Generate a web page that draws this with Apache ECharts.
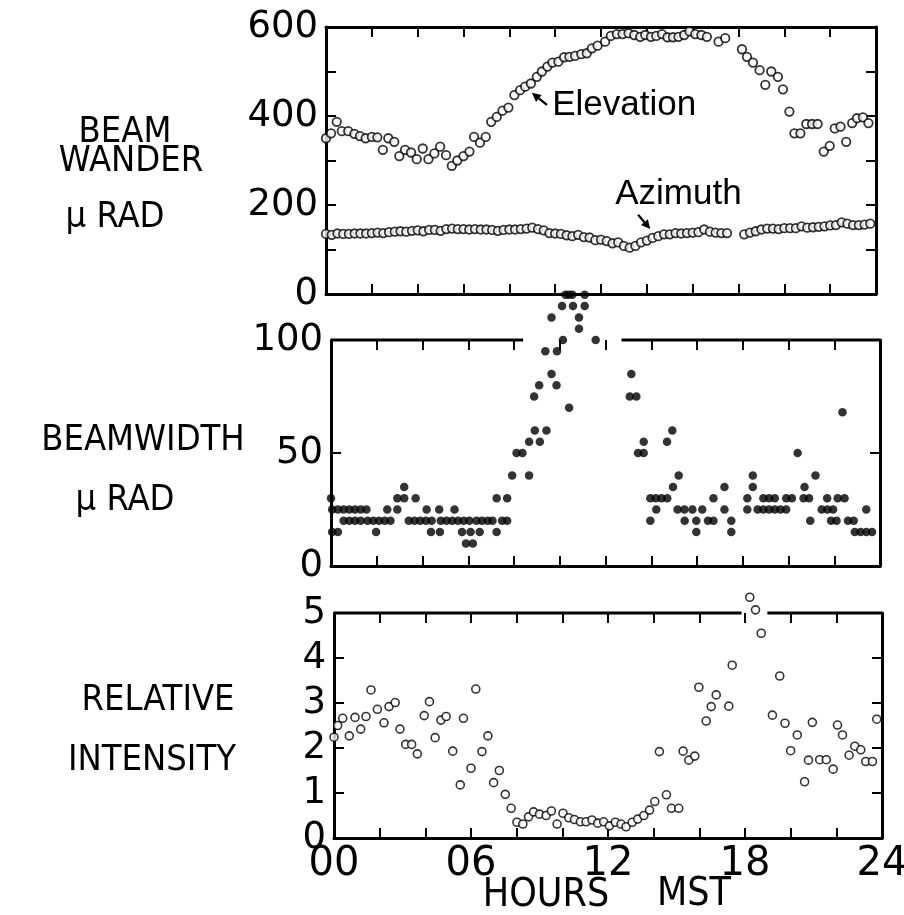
<!DOCTYPE html>
<html><head><meta charset="utf-8">
<script src="https://cdn.jsdelivr.net/npm/echarts@6/dist/echarts.min.js"></script>
<style>html,body{margin:0;padding:0;background:#fff}#c{width:904px;height:915px}</style>
</head><body><div id="c"></div>
<script>
// ---------- DATA ----------
const xTickLabels = ['00', '06', '12', '18', '24'];
const wanderTickLabels = ['0', '200', '400', '600'];
const widthTickLabels = ['0', '50', '100'];
const intensityTickLabels = ['0', '1', '2', '3', '4', '5'];

const elevHours = [0.00,0.22,0.47,0.69,0.97,1.24,1.48,1.73,2.00,2.24,2.48,2.72,2.98,3.20,3.45,3.71,3.96,4.22,4.47,4.73,4.98,5.24,5.49,5.73,6.00,6.26,6.46,6.72,6.97,7.21,7.45,7.70,7.96,8.22,8.47,8.69,8.94,9.20,9.42,9.66,9.88,10.14,10.39,10.62,10.87,11.14,11.38,11.60,11.85,12.18,12.43,12.69,12.94,13.20,13.45,13.71,13.93,14.18,14.41,14.66,14.90,15.14,15.38,15.63,15.86,16.11,16.38,16.62,17.13,17.42,18.15,18.37,18.63,18.92,19.17,19.43,19.72,19.94,20.22,20.44,20.70,20.96,21.21,21.45,21.72,21.98,22.20,22.45,22.70,22.96,23.17,23.43,23.67];
const elevValues = [350,361,387,366,366,360,355,350,353,352,324,350,342,310,324,318,303,327,303,316,331,312,288,300,310,320,353,340,353,387,398,412,419,447,458,466,473,488,500,511,520,522,532,533,535,539,541,552,558,567,580,584,584,586,582,578,582,578,580,584,577,577,578,582,590,584,582,578,567,575,550,533,520,503,470,500,488,460,410,361,361,382,382,382,320,333,372,376,342,384,395,397,384];

const aziHours = [0,0.25,0.5,0.75,1,1.25,1.5,1.75,2,2.25,2.5,2.75,3,3.25,3.5,3.75,4,4.25,4.5,4.75,5,5.25,5.5,5.75,6,6.25,6.5,6.75,7,7.25,7.5,7.75,8,8.25,8.5,8.75,9,9.25,9.5,9.75,10,10.25,10.5,10.75,11,11.25,11.5,11.75,12,12.25,12.5,12.75,13,13.25,13.5,13.75,14,14.25,14.5,14.75,15,15.25,15.5,15.75,16,16.25,16.5,16.75,17,17.25,17.5,18.25,18.5,18.75,19,19.25,19.5,19.75,20,20.25,20.5,20.75,21,21.25,21.5,21.75,22,22.25,22.5,22.75,23,23.25,23.5,23.75];
const aziValues = [135,133,136,135,135,136,136,136,137,138,137,139,140,141,140,142,143,141,144,144,142,146,147,146,146,145,146,145,145,144,142,144,145,145,146,147,149,146,143,137,136,135,132,130,133,128,127,121,122,119,114,116,108,104,108,116,120,126,130,134,134,137,136,137,138,139,145,140,138,137,137,134,138,141,145,147,147,146,148,148,148,152,149,150,151,152,154,155,161,158,155,155,156,158];

const bwHours = [
  0,0.05,0.3,
  0.05,0.3,0.55,0.8,1.05,1.3,1.55,
  0.55,0.8,1.05,1.3,
  1.6,1.85,2.1,2.35,2.6,
  1.97,2.46,2.9,2.9,3.2,3.2,3.7,
  3.4,3.65,3.9,4.15,4.4,
  4.18,4.73,4.37,4.76,
  4.8,5.05,5.3,5.55,5.8,6.05,
  5.4,5.73,6.1,6.5,5.9,6.2,
  6.36,6.6,6.85,7.06,
  7.24,7.48,7.7,7.24,7.7,7.92,8.11,8.37,8.66,
  8.66,8.91,9.13,9.42,
  8.88,9.1,9.64,9.86,
  9.37,9.88,10.14,10.41,9.64,
  10.1,10.58,11.09,
  10.25,10.4,10.55,11.09,
  10.84,10.84,11.57,
  13.13,13.06,13.35,13.67,13.42,13.67,14.69,14.92,
  13.96,14.2,14.45,14.7,
  13.96,14.22,14.95,15.2,
  15.15,15.45,15.8,
  15.46,15.97,15.97,16.23,16.48,16.72,16.72,17.2,17.2,17.5,17.5,
  18.2,18.2,18.44,18.44,
  18.65,18.9,19.15,19.4,19.65,19.9,
  18.9,19.15,19.4,19.9,20.15,
  20.4,20.66,20.9,20.7,21.18,20.95,
  21.45,21.7,21.95,21.69,
  22.15,22.45,22.36,
  21.86,22.1,22.6,22.85,
  23.4,
  22.9,23.15,23.4,23.65
];
const bwValues = [
  30,15,15,
  25,25,25,25,25,25,25,
  20,20,20,20,
  20,20,20,20,20,
  15,25,25,30,30,35,30,
  20,20,20,20,20,
  25,25,15,15,
  20,20,20,20,20,20,
  25,15,15,15,10,10,
  20,20,20,20,
  15,20,20,30,30,40,50,50,40,
  55,60,55,60,
  75,80,85,80,
  95,95,100,70,110,
  115,115,115,
  120,120,120,120,
  110,105,100,
  85,75,75,55,50,50,55,60,
  30,30,30,30,
  20,25,35,40,
  25,25,25,
  20,20,15,25,20,20,30,35,25,20,15,
  30,25,35,40,
  25,25,25,25,25,25,
  30,30,30,30,30,
  50,30,30,35,40,20,
  25,25,25,30,
  30,30,68,
  20,20,20,20,
  25,
  15,15,15,15
];

const intHours = [0,0.16,0.38,0.67,0.92,1.17,1.4,1.62,1.9,2.19,2.41,2.68,2.89,3.14,3.4,3.65,3.95,4.18,4.43,4.68,4.91,5.2,5.53,5.67,6.0,6.21,6.48,6.74,6.99,7.24,7.5,7.76,8.01,8.27,8.52,8.74,9.0,9.29,9.52,9.77,10.03,10.28,10.53,10.79,11.04,11.3,11.55,11.81,12.06,12.32,12.57,12.79,13.06,13.3,13.57,13.82,14.05,14.25,14.56,14.78,15.1,15.29,15.54,15.8,15.98,16.3,16.52,16.74,17.29,17.44,18.21,18.46,18.71,19.2,19.52,19.75,20.0,20.29,20.61,20.78,20.95,21.27,21.56,21.86,22.05,22.27,22.56,22.81,23.07,23.29,23.58,23.77];
const intValues = [2.24,2.5,2.66,2.27,2.68,2.42,2.7,3.29,2.86,2.56,2.92,3.01,2.42,2.08,2.08,1.87,2.72,3.03,2.23,2.62,2.7,1.93,1.18,2.66,1.55,3.31,1.92,2.27,1.23,1.5,0.97,0.66,0.35,0.31,0.47,0.58,0.53,0.5,0.6,0.31,0.55,0.45,0.41,0.36,0.36,0.4,0.33,0.36,0.27,0.35,0.31,0.25,0.35,0.42,0.5,0.62,0.81,1.92,0.96,0.66,0.66,1.93,1.73,1.82,3.35,2.6,2.92,3.18,2.93,3.84,5.35,5.07,4.55,2.73,3.6,2.55,1.94,2.29,1.25,1.73,2.57,1.74,1.74,1.53,2.51,2.29,1.84,2.04,1.96,1.7,1.7,2.64];

// top frame segments (hours) where the frame line is drawn for panels 2 and 3
const bwTopFrame = [[0, 8.4], [12.7, 24]];
const intTopFrame = [[0, 17.85], [18.98, 24]];

// ---------- CHART ----------
const zip = (a, b) => a.map((v, i) => [v, b[i]]);
const chart = echarts.init(document.getElementById('c'), null, {renderer: 'canvas'});
const NUM_FONT = '"DejaVu Sans", sans-serif';
const TXT_FONT = '"Liberation Sans Narrow", "DejaVu Sans Condensed", "Liberation Sans", sans-serif';
const grids = [
  {left: 326, top: 27, width: 550, height: 267},
  {left: 331, top: 340, width: 549, height: 226},
  {left: 334, top: 613, width: 548, height: 225}
];
const yCfg = [
  {max: 600, interval: 100, labels: wanderTickLabels},
  {max: 100, interval: 50, labels: widthTickLabels},
  {max: 5, interval: 1, labels: intensityTickLabels}
];
const frameTop = [true, false, false];
const BLACK = '#000';
const xAxes = [], yAxes = [];
grids.forEach((g, i) => {
  xAxes.push({gridIndex: i, type: 'value', min: 0, max: 24, interval: 2, position: 'bottom',
    axisLine: {show: true, onZero: false, lineStyle: {color: BLACK, width: 3}},
    axisTick: {show: true, inside: true, length: 10, lineStyle: {color: BLACK, width: 2}},
    axisLabel: {show: i === 2, margin: 7, fontFamily: NUM_FONT, fontSize: 40, color: BLACK,
      formatter: v => (v % 6 === 0 ? xTickLabels[v / 6] : '')},
    splitLine: {show: false}});
  xAxes.push({gridIndex: i, type: 'value', min: 0, max: 24, interval: 2, position: 'top',
    axisLine: {show: frameTop[i], onZero: false, lineStyle: {color: BLACK, width: 3}},
    axisTick: {show: true, inside: true, length: 10, lineStyle: {color: BLACK, width: 2}},
    axisLabel: {show: false}, splitLine: {show: false}});
  yAxes.push({gridIndex: i, type: 'value', min: 0, max: yCfg[i].max, interval: yCfg[i].interval, position: 'left',
    axisLine: {show: true, onZero: false, lineStyle: {color: BLACK, width: 3}},
    axisTick: {show: true, inside: true, length: 10, lineStyle: {color: BLACK, width: 2}},
    axisLabel: {show: true, margin: 8, fontFamily: NUM_FONT, fontSize: 37, color: BLACK,
      formatter: v => (yCfg[i].labels.indexOf(String(v)) >= 0 ? String(v) : '')},
    splitLine: {show: false}});
  yAxes.push({gridIndex: i, type: 'value', min: 0, max: yCfg[i].max, interval: yCfg[i].interval, position: 'right',
    axisLine: {show: true, onZero: false, lineStyle: {color: BLACK, width: 3}},
    axisTick: {show: true, inside: true, length: 10, lineStyle: {color: BLACK, width: 2}},
    axisLabel: {show: false}, splitLine: {show: false}});
});

const openCircle = {color: '#fff', borderColor: BLACK, borderWidth: 1.8};
const series = [
  {type: 'scatter', xAxisIndex: 0, yAxisIndex: 0, data: zip(elevHours, elevValues), symbolSize: 8.5, itemStyle: openCircle, clip: false, z: 3},
  {type: 'scatter', xAxisIndex: 0, yAxisIndex: 0, data: zip(aziHours, aziValues), symbolSize: 8.5, itemStyle: openCircle, clip: false, z: 3},
  {type: 'scatter', xAxisIndex: 2, yAxisIndex: 2, data: zip(bwHours, bwValues), symbolSize: 8.5, itemStyle: {color: BLACK}, clip: false, z: 4},
  {type: 'scatter', xAxisIndex: 4, yAxisIndex: 4, data: zip(intHours, intValues), symbolSize: 8, itemStyle: {color: '#fff', borderColor: BLACK, borderWidth: 1.6}, clip: false, z: 3}
];
bwTopFrame.forEach(s => series.push({type: 'line', xAxisIndex: 2, yAxisIndex: 2, data: [[s[0], 100], [s[1], 100]],
  symbol: 'none', clip: false, lineStyle: {color: BLACK, width: 3}, silent: true, z: 2}));
intTopFrame.forEach(s => series.push({type: 'line', xAxisIndex: 4, yAxisIndex: 4, data: [[s[0], 5], [s[1], 5]],
  symbol: 'none', clip: false, lineStyle: {color: BLACK, width: 3}, silent: true, z: 2}));

chart.setOption({
  animation: false,
  backgroundColor: '#fff',
  grid: grids.map(g => Object.assign({outerBoundsMode: 'none', containLabel: false}, g)),
  xAxis: xAxes, yAxis: yAxes, series: series
});

// ---------- TEXT & ANNOTATIONS ----------
const sideLabels = [
  {t: 'BEAM', x: 125, y: 133, s: 36}, {t: 'WANDER', x: 131, y: 162, s: 36}, {t: 'μ RAD', x: 115, y: 218, s: 36},
  {t: 'BEAMWIDTH', x: 143, y: 441, s: 36}, {t: 'μ RAD', x: 125, y: 501, s: 36},
  {t: 'RELATIVE', x: 158, y: 701, s: 36}, {t: 'INTENSITY', x: 152, y: 761, s: 36},
  {t: 'HOURS', x: 546, y: 896, s: 39}, {t: 'MST', x: 694, y: 895, s: 39}
];
const annotations = [
  {text: 'Elevation', at: [9.87, 423], from: [9.64, 425], to: [8.98, 452]},
  {text: 'Azimuth', at: [12.62, 225], from: [13.62, 178], to: [14.15, 146]}
];
const graphics = sideLabels.map(l => ({type: 'text', x: l.x, y: l.y, silent: true,
  style: {text: l.t, fontFamily: TXT_FONT, fontSize: l.s, fill: BLACK, textAlign: 'center', textVerticalAlign: 'middle'}}));
annotations.forEach(a => {
  const p = chart.convertToPixel({xAxisIndex: 0, yAxisIndex: 0}, a.at);
  const p0 = chart.convertToPixel({xAxisIndex: 0, yAxisIndex: 0}, a.from);
  const p1 = chart.convertToPixel({xAxisIndex: 0, yAxisIndex: 0}, a.to);
  graphics.push({type: 'text', x: p[0], y: p[1], silent: true,
    style: {text: a.text, fontFamily: '"Liberation Sans", sans-serif', fontSize: 35, fill: BLACK, textAlign: 'left', textVerticalAlign: 'middle'}});
  const dx = p1[0] - p0[0], dy = p1[1] - p0[1], L = Math.hypot(dx, dy);
  const ux = dx / L, uy = dy / L, nx = -uy, ny = ux;
  const hb = [p1[0] - ux * 9, p1[1] - uy * 9];
  graphics.push({type: 'line', silent: true, shape: {x1: p0[0], y1: p0[1], x2: hb[0], y2: hb[1]}, style: {stroke: BLACK, lineWidth: 2.2}});
  graphics.push({type: 'polygon', silent: true, shape: {points: [p1, [hb[0] + nx * 4.5, hb[1] + ny * 4.5], [hb[0] - nx * 4.5, hb[1] - ny * 4.5]]}, style: {fill: BLACK}});
});
chart.setOption({graphic: graphics});
</script>
</body></html>
